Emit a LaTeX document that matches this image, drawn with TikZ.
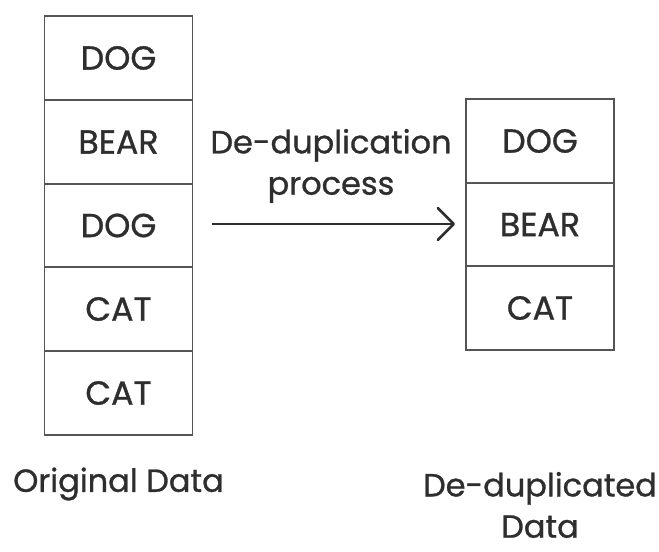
\documentclass[tikz,border=0pt]{standalone}
\usepackage{fontspec}
\setmainfont{Poppins}[FakeBold=0.9]
\usetikzlibrary{arrows.meta}
\definecolor{ink}{HTML}{2E2E2E}
\definecolor{edge}{HTML}{555555}
\begin{document}
\begin{tikzpicture}[x=0.75pt,y=-0.75pt,
  cell/.style={draw=edge,line width=1.1pt,minimum width=111pt,minimum height=62.8pt,inner sep=0pt,text=ink,font=\fontsize{25}{29}\selectfont},
  lbl/.style={text=ink,font=\fontsize{24}{31}\selectfont,align=center,inner sep=0pt}]
\useasboundingbox (0,0) rectangle (659,552);
% left column
\node[cell] (l1) at (118.5,58) {DOG};
\node[cell] (l2) at (118.5,142) {BEAR};
\node[cell] (l3) at (118.5,225.5) {DOG};
\node[cell] (l4) at (118.5,309) {CAT};
\node[cell] (l5) at (118.5,393) {CAT};
% right column
\node[cell] (r1) at (540,141) {DOG};
\node[cell] (r2) at (540,224.5) {BEAR};
\node[cell] (r3) at (540,308) {CAT};
% arrow
\coordinate (a0) at (212,224);
\coordinate (a1) at (455,224);
\draw[ink,line width=1.9pt,-{Straight Barb[length=12pt,width=24pt,line width=1.9pt,round]}] (a0) -- (a1);
\node[lbl] (proc) at (331,166) {De-duplication\\process};
\node[lbl] (orig) at (118.5,484) {Original Data};
\node[lbl] (dedup) at (540,505) {De-duplicated\\Data};
\end{tikzpicture}
\end{document}
